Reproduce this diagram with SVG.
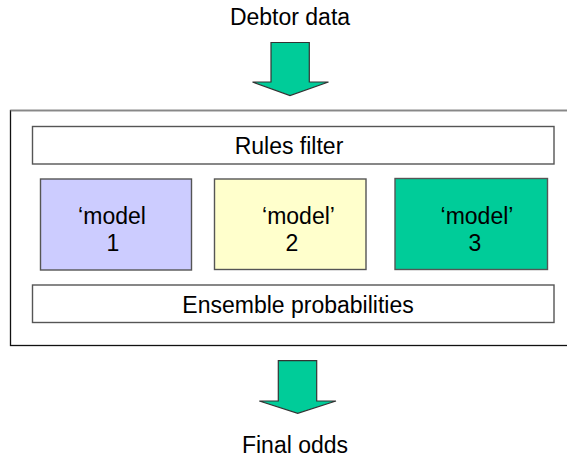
<svg xmlns="http://www.w3.org/2000/svg" width="567" height="459" viewBox="0 0 567 459">
<style>
text{font-family:"Liberation Sans",Arial,sans-serif;font-size:23px;fill:#000;text-anchor:middle}
.box{stroke:#555;stroke-width:1.4}
.arrow{fill:#00CC99;stroke:#333;stroke-width:1.2}
</style>
<rect x="0" y="0" width="567" height="459" fill="#fff"/>
<g id="container">
<rect x="10.5" y="110.5" width="570" height="235" fill="#fff" stroke="#111" stroke-width="1.3"/>
<line x1="10.5" y1="110.5" x2="567" y2="110.5" stroke="#888" stroke-width="1.6"/>
</g>
<g id="debtor-data"><text x="290" y="25">Debtor data</text></g>
<g id="rules-filter">
<rect class="box" x="32.5" y="126.5" width="521.5" height="37.5" fill="#fff"/>
<text x="289" y="154">Rules filter</text>
</g>
<g id="model1">
<rect class="box" x="40.5" y="179" width="151" height="91" fill="#CCCCFF"/>
<text x="112" y="224">‘model</text>
<text x="113" y="251">1</text>
</g>
<g id="model2">
<rect class="box" x="214.5" y="179" width="151.5" height="90.5" fill="#FFFFCC"/>
<text x="298.5" y="224">‘model’</text>
<text x="292" y="251">2</text>
</g>
<g id="model3">
<rect class="box" x="395" y="178.5" width="152.5" height="91" fill="#00CC99"/>
<text x="477" y="224">‘model’</text>
<text x="475" y="251">3</text>
</g>
<g id="ensemble">
<rect class="box" x="32.5" y="285" width="521.5" height="37.5" fill="#fff"/>
<text x="298" y="313">Ensemble probabilities</text>
</g>
<g id="final-odds"><text x="295" y="453">Final odds</text></g>
<g id="connectors">
<polygon class="arrow" points="271,42.5 309.3,42.5 309.3,82 328.5,82 290,95.5 252.5,82 271,82"/>
<polygon class="arrow" points="278.3,360.7 316.7,360.7 316.7,401 336,401 297.7,413.3 259.3,401 278.3,401"/>
</g>
</svg>
